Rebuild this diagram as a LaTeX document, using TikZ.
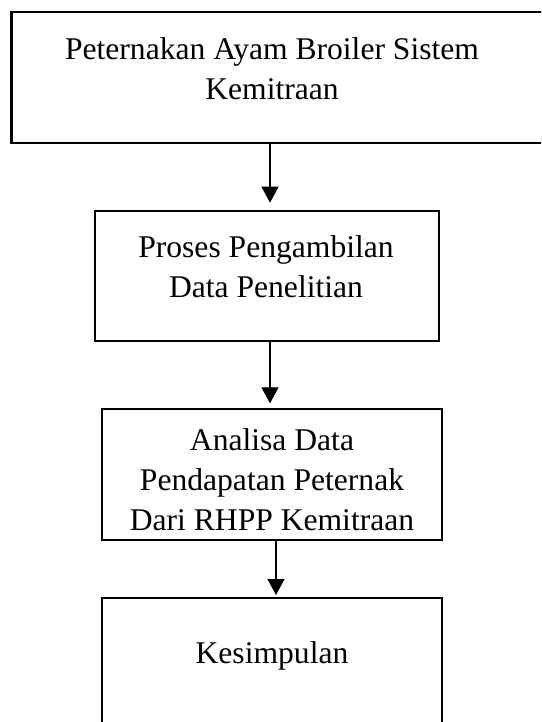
\documentclass[tikz,border=0pt]{standalone}
\usepackage{fontspec}
\setmainfont{Liberation Serif}
\usetikzlibrary{arrows.meta}

\begin{document}
\begin{tikzpicture}[
  x=1pt, y=1pt,
  box node/.style={rectangle, draw, line width=2.2pt, inner sep=0pt, outer sep=0pt, anchor=north west},
  text node/.style={inner sep=0pt, anchor=north, align=center, font=\fontsize{31.6}{40}\selectfont},
  flow arrow/.style={-{Triangle[width=17pt, length=16pt]}, line width=1.1pt},
]
  \useasboundingbox (0, 0) rectangle (541, -722);
  \clip (0, 0) rectangle (541, -722);

  % Boxes, node names: b1, b2, ...
  \node[box node, minimum width=548.5pt, minimum height=131pt] (b1) at (11.5, -12) {};
  \node[box node, minimum width=343.4pt, minimum height=130.6pt] (b2) at (95.3, -210.7) {};
  \node[box node, minimum width=340.3pt, minimum height=131pt] (b3) at (102, -409.3) {};
  \node[box node, minimum width=340.3pt, minimum height=150pt] (b4) at (102, -598) {};

  % Texts, placed by the top of their first line
  \node[text node] (t1) at (272, -37) {Peternakan Ayam Broiler Sistem\\Kemitraan};
  \node[text node] (t2) at (266, -235.4) {Proses Pengambilan\\Data Penelitian};
  \node[text node] (t3) at (272, -428.4) {Analisa Data\\Pendapatan Peternak\\Dari RHPP Kemitraan};
  \node[text node] (t4) at (272, -641.4) {Kesimpulan};

  % Arrows between the boxes: from/to/x/gap above the next box
  \foreach \from/\to/\ax/\gap in {b1/b2/270/8, b2/b3/270/6, b3/b4/276/3} {
    \coordinate (s) at (\ax, 0);
    \draw[flow arrow, shorten >=\gap pt] (s |- \from.south) -- (s |- \to.north);
  }
\end{tikzpicture}
\end{document}
